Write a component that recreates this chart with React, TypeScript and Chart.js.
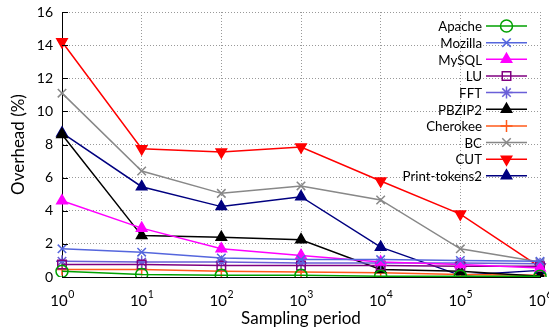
import React, { useEffect, useRef } from 'react';
import { Chart, registerables } from 'chart.js';
import { drawPoint } from 'chart.js/helpers';
Chart.register(...registerables);

const exponents = [0, 1, 2, 3, 4, 5, 6];
const yTicks = [0, 2, 4, 6, 8, 10, 12, 14, 16];

const apache = [0.35, 0.15, 0.1, 0.1, 0.05, 0.05, 0.05];
const mozilla = [1.7, 1.5, 1.15, 1.05, 1.05, 1.0, 0.95];
const mysql = [4.6, 2.95, 1.7, 1.3, 0.9, 0.75, 0.55];
const lu = [0.75, 0.75, 0.7, 0.7, 0.7, 0.65, 0.65];
const fft = [0.95, 0.9, 0.9, 0.85, 0.85, 0.85, 0.8];
const pbzip2 = [8.6, 2.5, 2.4, 2.25, 0.45, 0.35, 0.05];
const cherokee = [0.45, 0.45, 0.35, 0.3, 0.25, 0.15, 0.1];
const bc = [11.1, 6.4, 5.05, 5.5, 4.65, 1.7, 0.9];
const cut = [14.2, 7.75, 7.55, 7.85, 5.8, 3.8, 0.6];
const printTokens2 = [8.7, 5.45, 4.25, 4.85, 1.8, 0.1, 0.4];

const FONT = 'Lato, "DejaVu Sans", sans-serif';

type S = { label: string; data: number[]; color: string; style: string; rotation: number; filled: boolean };
const series: S[] = [
  { label: 'Apache', data: apache, color: '#00a000', style: 'circle', rotation: 0, filled: false },
  { label: 'Mozilla', data: mozilla, color: '#5566dd', style: 'crossRot', rotation: 0, filled: false },
  { label: 'MySQL', data: mysql, color: '#ff00ff', style: 'triangle', rotation: 0, filled: true },
  { label: 'LU', data: lu, color: '#800080', style: 'rect', rotation: 0, filled: false },
  { label: 'FFT', data: fft, color: '#6a5fd8', style: 'star', rotation: 0, filled: false },
  { label: 'PBZIP2', data: pbzip2, color: '#000000', style: 'triangle', rotation: 0, filled: true },
  { label: 'Cherokee', data: cherokee, color: '#ff5a1a', style: 'cross', rotation: 0, filled: false },
  { label: 'BC', data: bc, color: '#888888', style: 'crossRot', rotation: 0, filled: false },
  { label: 'CUT', data: cut, color: '#ff0000', style: 'triangle', rotation: 180, filled: true },
  { label: 'Print-tokens2', data: printTokens2, color: '#000080', style: 'triangle', rotation: 0, filled: true },
];

const decorPlugin = {
  id: 'decor',
  afterDraw(chart: any) {
    const ctx = chart.ctx as CanvasRenderingContext2D;
    const xs = chart.scales.x;
    const ys = chart.scales.y;
    const area = chart.chartArea;
    ctx.save();
    // inward y ticks
    ctx.strokeStyle = '#000';
    ctx.lineWidth = 1;
    yTicks.forEach((v) => {
      const py = Math.round(ys.getPixelForValue(v)) + 0.5;
      ctx.beginPath();
      ctx.moveTo(area.left, py);
      ctx.lineTo(area.left + 6, py);
      ctx.stroke();
    });
    // y tick labels
    ctx.fillStyle = '#000';
    ctx.font = `14px ${FONT}`;
    ctx.textAlign = 'right';
    ctx.textBaseline = 'middle';
    yTicks.forEach((v) => {
      ctx.fillText(String(v), area.left - 9, ys.getPixelForValue(v));
    });
    // x tick labels with superscript
    exponents.forEach((e, i) => {
      const px = xs.getPixelForValue(i);
      ctx.font = `15px ${FONT}`;
      const w1 = ctx.measureText('10').width;
      ctx.font = `10.5px ${FONT}`;
      const w2 = ctx.measureText(String(e)).width;
      const start = px - (w1 + w2) / 2;
      ctx.textAlign = 'left';
      ctx.textBaseline = 'alphabetic';
      ctx.font = `15px ${FONT}`;
      ctx.fillText('10', start, area.bottom + 29);
      ctx.font = `10.5px ${FONT}`;
      ctx.fillText(String(e), start + w1 + 0.5, area.bottom + 21);
    });
    // axis titles
    ctx.font = `17px ${FONT}`;
    ctx.textAlign = 'center';
    ctx.textBaseline = 'middle';
    ctx.fillText('Sampling period', (area.left + area.right) / 2, area.bottom + 42);
    ctx.save();
    ctx.translate(19, (area.top + area.bottom) / 2);
    ctx.rotate(-Math.PI / 2);
    ctx.fillText('Overhead (%)', 0, 0);
    ctx.restore();
    // legend
    const textRight = 482;
    const lineL = 486;
    const lineR = 527;
    const top = 26;
    const step = 16.65;
    series.forEach((s, i) => {
      const y = top + i * step;
      ctx.fillStyle = '#000';
      ctx.font = `13.3px ${FONT}`;
      ctx.textAlign = 'right';
      ctx.textBaseline = 'middle';
      ctx.fillText(s.label, textRight, y + 1);
      ctx.strokeStyle = s.color;
      ctx.lineWidth = 1.5;
      ctx.beginPath();
      ctx.moveTo(lineL, y);
      ctx.lineTo(lineR, y);
      ctx.stroke();
      ctx.fillStyle = s.filled ? s.color : 'rgba(0,0,0,0)';
      drawPoint(ctx, { pointStyle: s.style as any, radius: 6, rotation: s.rotation, borderWidth: 1.5 }, (lineL + lineR) / 2, y);
    });
    ctx.restore();
  },
};

export default function App() {
  const ref = useRef<HTMLCanvasElement>(null);
  useEffect(() => {
    if (!ref.current) return;
    const chart = new Chart(ref.current, {
      type: 'line',
      data: {
        labels: exponents.map((e) => `10^${e}`),
        datasets: series.map((s) => ({
          label: s.label,
          data: s.data,
          borderColor: s.color,
          backgroundColor: s.filled ? s.color : 'rgba(0,0,0,0)',
          pointBackgroundColor: s.filled ? s.color : 'rgba(0,0,0,0)',
          pointBorderColor: s.color,
          pointStyle: s.style as any,
          pointRotation: s.rotation,
          pointRadius: 6,
          pointBorderWidth: 1.5,
          borderWidth: 1.5,
          tension: 0,
          fill: false,
        })),
      },
      options: {
        animation: false,
        responsive: false,
        maintainAspectRatio: false,
        layout: { padding: { left: 62, right: 9, top: 12, bottom: 55 } },
        plugins: { legend: { display: false }, tooltip: { enabled: false } },
        scales: {
          x: {
            type: 'category',
            offset: false,
            ticks: { display: false },
            grid: { color: '#999999', drawTicks: false, offset: false, tickLength: 0 },
            border: { display: true, color: '#000', width: 1, dash: [1, 2] },
            afterFit: (sc: any) => { sc.height = 0; },
          },
          y: {
            min: 0,
            max: 16,
            ticks: { display: false, stepSize: 2 },
            grid: { color: '#999999', drawTicks: false, tickLength: 0 },
            border: { display: true, color: '#000', width: 1, dash: [1, 2] },
            afterFit: (sc: any) => { sc.width = 0; },
          },
        },
      },
      plugins: [decorPlugin],
    } as any);
    return () => chart.destroy();
  }, []);
  return (
    <div style={{ position: 'fixed', left: 0, top: 0, width: 549, height: 332 }}>
      <canvas ref={ref} width={549} height={332} style={{ width: 549, height: 332 }} />
    </div>
  );
}
